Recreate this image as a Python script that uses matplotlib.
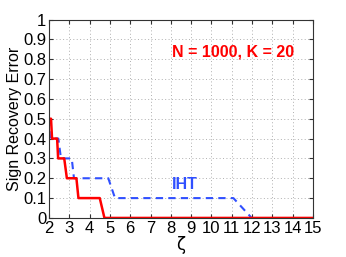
import matplotlib
matplotlib.use("Agg")
import matplotlib.pyplot as plt

# Courbes
zeta_red = [2.0, 2.1, 2.15, 2.4, 2.45, 2.75, 2.88, 3.35, 3.45, 4.5, 4.73, 15.0]
err_red = [0.5, 0.5, 0.4, 0.4, 0.3, 0.3, 0.2, 0.2, 0.1, 0.1, 0.0, 0.0]

zeta_iht = [2.0, 2.05, 2.46, 2.59, 3.12, 3.23, 4.92, 5.25, 11.08, 11.98]
err_iht = [0.5, 0.4, 0.4, 0.3, 0.3, 0.2, 0.2, 0.1, 0.1, 0.0]

xticks = list(range(2, 16))
yticks = [round(0.1 * i, 1) for i in range(11)]

plt.rcParams['font.family'] = ['Liberation Sans', 'DejaVu Sans']

fig = plt.figure(figsize=(3.46, 2.57), dpi=100)
ax = fig.add_axes([0.1416, 0.152, 0.763, 0.772])

ax.plot(zeta_iht, err_iht, color="#3050ff", linewidth=1.5, linestyle=(0, (3.5, 2.5)))
ax.plot(zeta_red, err_red, color="#ff0000", linewidth=1.8)

ax.set_xlim(2, 15)
ax.set_ylim(0, 1)
ax.set_xticks(xticks)
ax.set_yticks(yticks)
ax.set_yticklabels(["0" if v == 0 else ("1" if v == 1 else f"{v:g}") for v in yticks])
ax.tick_params(direction="in", top=True, right=True, labelsize=12, length=3,
               color="#333333", pad=2)
ax.grid(True, color="#b0b0b0", linestyle=(0, (1, 2.5)), linewidth=0.7)
for spine in ax.spines.values():
    spine.set_color("#333333")
    spine.set_linewidth(0.8)

ax.set_ylabel("Sign Recovery Error", fontsize=11.5, labelpad=1)
ax.set_xlabel("ζ", fontsize=12, labelpad=0, family=["DejaVu Sans"])

ax.text(11.06, 0.835, "N = 1000, K = 20", color="#ff0000", fontsize=11.5,
        fontweight="bold", ha="center", va="center")
ax.text(8.05, 0.167, "IHT", color="#3050ff", fontsize=11.5,
        fontweight="bold", ha="left", va="center")

fig.savefig("out.png", dpi=100)
